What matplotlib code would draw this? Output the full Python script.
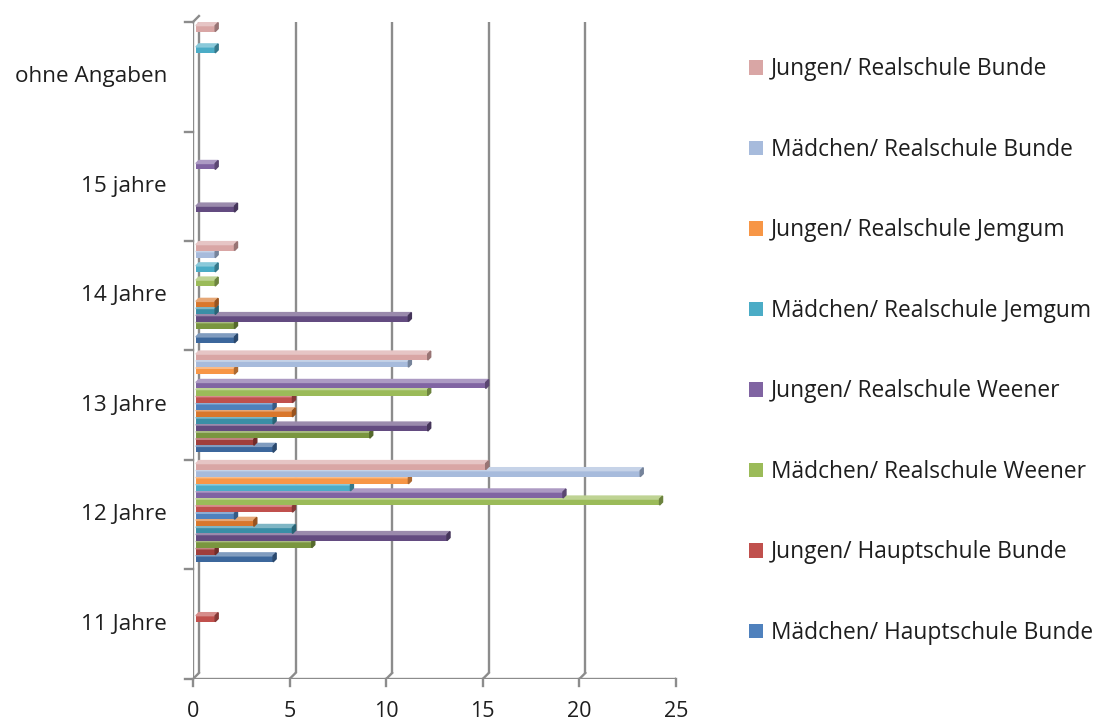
import numpy as np
import matplotlib
matplotlib.use("Agg")
import matplotlib.pyplot as plt
from matplotlib.patches import Polygon, Patch
from matplotlib.transforms import ScaledTranslation

plt.rcParams['font.family'] = ['Open Sans', 'DejaVu Sans']

kategorien = ["11 Jahre", "12 Jahre", "13 Jahre", "14 Jahre", "15 jahre", "ohne Angaben"]

# Reihen ohne Legendeneintrag (unterste sechs Balken je Gruppe)
weitere_werte = [
    [0, 4, 4, 2, 0, 0],
    [0, 1, 3, 0, 0, 0],
    [0, 6, 9, 2, 0, 0],
    [0, 13, 12, 11, 2, 0],
    [0, 5, 4, 1, 0, 0],
    [0, 3, 5, 1, 0, 0],
]
weitere_farben = ["#3c679c", "#a03e3b", "#7a963f", "#634b80", "#3a8ea6", "#d9772c"]

reihen_namen = [
    "Mädchen/ Hauptschule Bunde",
    "Jungen/ Hauptschule Bunde",
    "Mädchen/ Realschule Weener",
    "Jungen/ Realschule Weener",
    "Mädchen/ Realschule Jemgum",
    "Jungen/ Realschule Jemgum",
    "Mädchen/ Realschule Bunde",
    "Jungen/ Realschule Bunde",
]
reihen_werte = [
    [0, 2, 4, 0, 0, 0],
    [1, 5, 5, 0, 0, 0],
    [0, 24, 12, 1, 0, 0],
    [0, 19, 15, 0, 1, 0],
    [0, 8, 0, 1, 0, 1],
    [0, 11, 2, 0, 0, 0],
    [0, 23, 11, 1, 0, 0],
    [0, 15, 12, 2, 0, 1],
]
reihen_farben = ["#4f81bd", "#c0504d", "#9bbb59", "#8064a2", "#4bacc6", "#f79646",
                 "#a7bbdc", "#d9a6a5"]

alle_werte = weitere_werte + reihen_werte
alle_farben = weitere_farben + reihen_farben

fig = plt.figure(figsize=(11.02, 7.24), dpi=100)
ax = fig.add_axes([0.1751, 0.0622, 0.4383, 0.9074])
ax.set_xlim(0, 25)
ax.set_ylim(-0.5, 5.5)
ax.axis("off")

grau = "#8c8c8c"
textfarbe = "#1e1e1e"
# Versatz der Rückwand (3D-Tiefe) in Pixeln
rueck = ax.transData + ScaledTranslation(6 / 100, 6 / 100, fig.dpi_scale_trans)

# Rückwand: Gitterlinien
for xv in range(0, 30, 5):
    ax.plot([xv, xv], [-0.5, 5.5], color=grau, lw=1.7, transform=rueck, solid_capstyle="butt")
# vordere Achse und Boden
ax.plot([0, 0], [-0.5, 5.5], color=grau, lw=1.7, solid_capstyle="butt")
ax.plot([-0.4, 25], [-0.5, -0.5], color=grau, lw=1.7, solid_capstyle="butt")
px_x = 25 / (0.4383 * 1102)
px_y = 6 / (0.9074 * 724)
for xv in range(0, 30, 5):
    ax.plot([xv, xv + 6 * px_x], [-0.5, -0.5 + 6 * px_y], color=grau, lw=1.7)
    ax.plot([xv, xv], [-0.5, -0.5 - 7 * px_y], color=grau, lw=1.7, clip_on=False)
ax.plot([0, 6 * px_x], [5.5, 5.5 + 6 * px_y], color=grau, lw=1.7, clip_on=False)
for yv in np.arange(-0.5, 6, 1):
    ax.plot([-8 * px_x, 0], [yv, yv], color=grau, lw=1.7, clip_on=False)

# Balken mit angedeuteter Tiefe
n = len(alle_werte)
abstand = 7.1 * px_y
hoehe = 6 * px_y
tx, ty = 3 * px_x, 3 * px_y
pos = np.arange(len(kategorien))
for i, (werte, farbe) in enumerate(zip(alle_werte, alle_farben)):
    y = pos + (i - (n - 1) / 2) * abstand + 2 * px_y
    werte = np.array(werte, dtype=float)
    ax.barh(y, werte, height=hoehe, left=0.15, color=farbe, edgecolor="none", zorder=3 + i)
    dunkel = tuple(c * 0.7 for c in matplotlib.colors.to_rgb(farbe))
    hell = tuple(c + (1 - c) * 0.35 for c in matplotlib.colors.to_rgb(farbe))
    for yy, w in zip(y, werte):
        if w == 0:
            continue
        x1 = 0.15 + w
        ax.add_patch(Polygon([(0.15, yy + hoehe / 2), (x1, yy + hoehe / 2),
                              (x1 + tx, yy + hoehe / 2 + ty), (0.15 + tx, yy + hoehe / 2 + ty)],
                             closed=True, color=hell, zorder=3 + i))
        ax.add_patch(Polygon([(x1, yy - hoehe / 2), (x1, yy + hoehe / 2),
                              (x1 + tx, yy + hoehe / 2 + ty), (x1 + tx, yy - hoehe / 2 + ty)],
                             closed=True, color=dunkel, zorder=3 + i))

# Beschriftungen
for k, name in zip(pos, kategorien):
    ax.text(-26 * px_x, k, name, ha="right", va="center", fontsize=16.2, color=textfarbe)
for xv in range(0, 30, 5):
    ax.text(xv, -0.5 - 33 * px_y, str(xv), ha="center", va="center", fontsize=15.5,
            color=textfarbe)

griffe = [Patch(facecolor=f, edgecolor="none") for f in reihen_farben]
fig.legend(griffe[::-1], reihen_namen[::-1], loc="upper left",
           bbox_to_anchor=(0.661, 0.949), frameon=False, fontsize=16.4,
           handlelength=0.6, handleheight=0.6, handletextpad=0.35,
           labelspacing=2.48, labelcolor=textfarbe)

fig.savefig("out.png", dpi=100)
